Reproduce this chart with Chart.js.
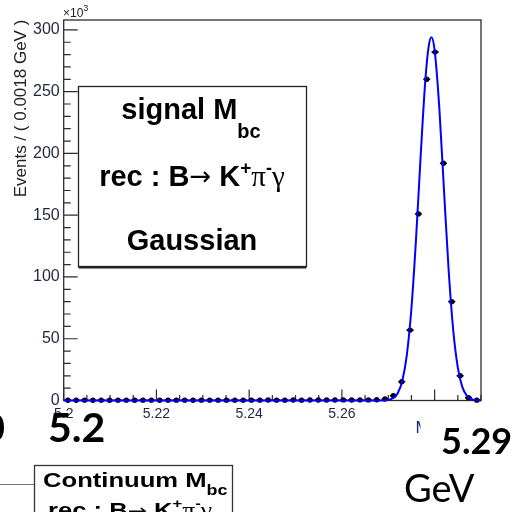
<!DOCTYPE html>
<html>
<head>
<meta charset="utf-8">
<script src="https://cdn.jsdelivr.net/npm/chart.js@4.4.1/dist/chart.umd.min.js"></script>
<style>
  html, body { margin: 0; padding: 0; background: #fff; }
  #wrap { width: 520px; height: 512px; }
</style>
</head>
<body>
<div id="wrap"><canvas id="mbcChart" width="520" height="512"></canvas></div>
<script>
// histogram binning of M_bc (GeV)
const binStart = 5.2;
const binWidth = 0.0018;

// events per bin, in units of 10^3
const counts = [
  0.2, 0.2, 0.3, 0.2, 0.3, 0.2, 0.3, 0.3, 0.2, 0.3,
  0.3, 0.2, 0.3, 0.3, 0.3, 0.2, 0.3, 0.3, 0.3, 0.3,
  0.3, 0.3, 0.3, 0.3, 0.4, 0.3, 0.3, 0.4, 0.3, 0.4,
  0.4, 0.4, 0.4, 0.5, 0.4, 0.5, 0.5, 0.6, 1.2, 3.8,
  15.2, 57, 151, 260, 282, 192, 80, 20, 2.3, 0.3
];

// gaussian fit curve
const fitX = [5.2, 5.265, 5.268, 5.27, 5.271, 5.272, 5.273, 5.274, 5.275, 5.276,
  5.277, 5.278, 5.2787, 5.2793, 5.28, 5.281, 5.282, 5.283, 5.284, 5.285,
  5.286, 5.287, 5.288, 5.289, 5.29];
const fitY = [0, 0, 0.02, 0.5, 1.8, 5.7, 15.6, 36.8, 74.9, 131.4,
  198.8, 259.5, 286.3, 294, 283.5, 237.5, 171.5, 106.8, 57.4, 26.6,
  10.6, 3.6, 1.1, 0.3, 0.1];

const xTicks = [5.2, 5.22, 5.24, 5.26, 5.28];
const yTicks = [0, 50, 100, 150, 200, 250, 300];
const xMinorStep = 0.005;
const yMinorStep = 10;

const SANS = '"Liberation Sans", Arial, sans-serif';
const NARROW = '"Liberation Sans Narrow", "Liberation Sans", Arial, sans-serif';
const SERIF = '"Liberation Serif", "DejaVu Serif", serif';
const ARROW = '"DejaVu Sans", sans-serif';
const SLIDE = 'Lato, "Liberation Sans", sans-serif';

// draw a row of text pieces; each piece may be raised/lowered and squeezed
function drawPieces(ctx, pieces, x, baseline, align, sx) {
  sx = sx || 1;
  let total = 0;
  pieces.forEach(p => { ctx.font = p.font; p.w = ctx.measureText(p.t).width * sx; total += p.w; });
  let cx = align === 'center' ? x - total / 2 : x;
  pieces.forEach(p => {
    ctx.save();
    ctx.font = p.font;
    ctx.translate(cx, baseline + (p.dy || 0));
    ctx.scale(sx, 1);
    ctx.fillText(p.t, 0, 0);
    ctx.restore();
    cx += p.w;
  });
}

const rootStyle = {
  id: 'rootStyle',
  beforeDatasetsDraw(chart) {
    const { ctx, chartArea: a, scales: { x, y } } = chart;
    ctx.save();
    // frame
    ctx.strokeStyle = '#2b2b2b';
    ctx.lineWidth = 1.3;
    ctx.strokeRect(a.left, a.top, a.right - a.left, a.bottom - a.top);

    // ticks pointing into the frame
    ctx.lineWidth = 1.2;
    ctx.beginPath();
    for (let v = x.min; v <= x.max + 1e-9; v += xMinorStep) {
      const major = xTicks.some(t => Math.abs(t - v) < 1e-6);
      const px = x.getPixelForValue(v);
      ctx.moveTo(px, a.bottom);
      ctx.lineTo(px, a.bottom - (major ? 11 : 5.5));
    }
    for (let v = 0; v <= y.max; v += yMinorStep) {
      const major = v % 50 === 0;
      const py = y.getPixelForValue(v);
      ctx.moveTo(a.left, py);
      ctx.lineTo(a.left + (major ? 14 : 7), py);
    }
    ctx.stroke();

    // horizontal bars spanning each bin
    ctx.strokeStyle = '#000';
    ctx.lineWidth = 1.6;
    ctx.beginPath();
    counts.forEach((c, i) => {
      const lo = binStart + i * binWidth;
      const py = y.getPixelForValue(c);
      ctx.moveTo(x.getPixelForValue(lo + binWidth * 0.08), py);
      ctx.lineTo(x.getPixelForValue(lo + binWidth * 0.92), py);
    });
    ctx.stroke();
    ctx.restore();
  },
  afterDraw(chart) {
    const { ctx } = chart;
    ctx.save();
    ctx.fillStyle = '#222';
    ctx.textBaseline = 'alphabetic';

    // exponent above the y axis
    drawPieces(ctx, [
      { t: '\u00d710', font: '12px ' + SANS },
      { t: '3', font: '9px ' + SANS, dy: -6 }
    ], 63, 17, 'left');

    // y axis title
    ctx.save();
    ctx.translate(26, 108.5);
    ctx.rotate(-Math.PI / 2);
    ctx.font = '17px ' + SANS;
    ctx.textAlign = 'center';
    ctx.fillText('Events / ( 0.0018 GeV )', 0, 0);
    ctx.restore();

    // x axis title, mostly under the white patch
    ctx.fillStyle = '#1b2a66';
    ctx.font = '17px ' + SANS;
    ctx.fillText('M', 415.5, 433);
    ctx.fillStyle = '#fff';
    ctx.fillRect(420.5, 404, 100, 60);

    // signal label box
    ctx.fillStyle = '#fff';
    ctx.fillRect(78.5, 86.5, 228, 180);
    ctx.strokeStyle = '#222';
    ctx.lineWidth = 1.3;
    ctx.strokeRect(78.5, 86.5, 228, 180);
    ctx.lineWidth = 2;
    ctx.beginPath();
    ctx.moveTo(78.5, 267.5);
    ctx.lineTo(306.5, 267.5);
    ctx.stroke();

    ctx.fillStyle = '#000';
    const B = 'bold 29px ' + SANS;
    drawPieces(ctx, [
      { t: 'signal M', font: B },
      { t: 'bc', font: 'bold 20px ' + SANS, dy: 19 }
    ], 191, 119, 'center');
    drawPieces(ctx, [
      { t: 'rec : B', font: B },
      { t: '\u2192', font: '26px ' + ARROW, dy: -1 },
      { t: ' K', font: B },
      { t: '+', font: 'bold 19px ' + SANS, dy: -12 },
      { t: '\u03c0', font: '29px ' + SERIF },
      { t: '-', font: 'bold 18px ' + SANS, dy: -12 },
      { t: '\u03b3', font: '29px ' + SERIF }
    ], 192, 186, 'center');
    drawPieces(ctx, [{ t: 'Gaussian', font: B }], 192, 250, 'center');

    // slide labels around the plot
    ctx.font = 'bold 41px ' + SLIDE;
    ctx.fillText('5.2', 48, 442);
    ctx.textAlign = 'right';
    ctx.fillText('0', 5, 442);
    ctx.textAlign = 'left';
    ctx.font = 'bold 36px ' + SLIDE;
    ctx.fillText('5.29', 441, 454);
    ctx.font = '38px ' + SLIDE;
    ctx.fillText('GeV', 404, 502);

    // continuum box below
    ctx.strokeStyle = '#777';
    ctx.lineWidth = 1;
    ctx.beginPath();
    ctx.moveTo(0, 484.5);
    ctx.lineTo(34, 484.5);
    ctx.stroke();
    ctx.fillStyle = '#fff';
    ctx.fillRect(34.5, 465.5, 198, 60);
    ctx.strokeStyle = '#333';
    ctx.lineWidth = 1.3;
    ctx.strokeRect(34.5, 465.5, 198, 60);
    ctx.fillStyle = '#000';
    const C = 'bold 20px ' + SANS;
    drawPieces(ctx, [
      { t: 'Continuum M', font: C },
      { t: 'bc', font: 'bold 14px ' + SANS, dy: 8 }
    ], 43, 486.5, 'left', 1.28);
    drawPieces(ctx, [
      { t: 'rec : B', font: C },
      { t: '\u2192', font: '18px ' + ARROW },
      { t: ' K', font: C },
      { t: '+', font: 'bold 13px ' + SANS, dy: -9 },
      { t: '\u03c0', font: '20px ' + SERIF },
      { t: '-', font: 'bold 13px ' + SANS, dy: -9 },
      { t: '\u03b3', font: '20px ' + SERIF }
    ], 48, 517, 'left', 1.28);

    ctx.restore();
  }
};

const ctx = document.getElementById('mbcChart').getContext('2d');
const mbcChart = new Chart(ctx, {
  type: 'line',
  data: {
    datasets: [
      {
        label: 'fit',
        data: fitX.map((v, i) => ({ x: v, y: fitY[i] })),
        borderColor: '#0000ff',
        borderWidth: 2,
        pointRadius: 0,
        cubicInterpolationMode: 'monotone',
        clip: false,
        order: 0
      },
      {
        label: 'data',
        data: counts.map((c, i) => ({ x: binStart + (i + 0.5) * binWidth, y: c })),
        showLine: false,
        pointRadius: 2.7,
        pointBackgroundColor: '#000',
        pointBorderWidth: 0,
        clip: false,
        order: 1
      }
    ]
  },
  options: {
    responsive: false,
    animation: false,
    devicePixelRatio: 1,
    layout: { padding: { left: 0, right: 39, top: 20, bottom: 0 } },
    plugins: { legend: { display: false }, tooltip: { enabled: false } },
    scales: {
      x: {
        type: 'linear',
        min: 5.2,
        max: 5.29,
        afterBuildTicks: s => { s.ticks = xTicks.map(v => ({ value: v })); },
        afterFit: s => { s.height = 111.5; },
        grid: { display: false, drawTicks: false },
        border: { display: false },
        ticks: {
          padding: 5,
          maxRotation: 0,
          autoSkip: false,
          color: '#1c2747',
          font: { family: SANS, size: 14 },
          callback: v => String(v)
        }
      },
      y: {
        min: 0,
        max: 308,
        afterBuildTicks: s => { s.ticks = yTicks.map(v => ({ value: v })); },
        afterFit: s => { s.width = 63.7; },
        grid: { display: false, drawTicks: false },
        border: { display: false },
        ticks: {
          padding: 4,
          color: '#1f2540',
          font: { family: NARROW, size: 16 },
          callback: v => String(v)
        }
      }
    }
  },
  plugins: [rootStyle]
});
</script>
</body>
</html>
